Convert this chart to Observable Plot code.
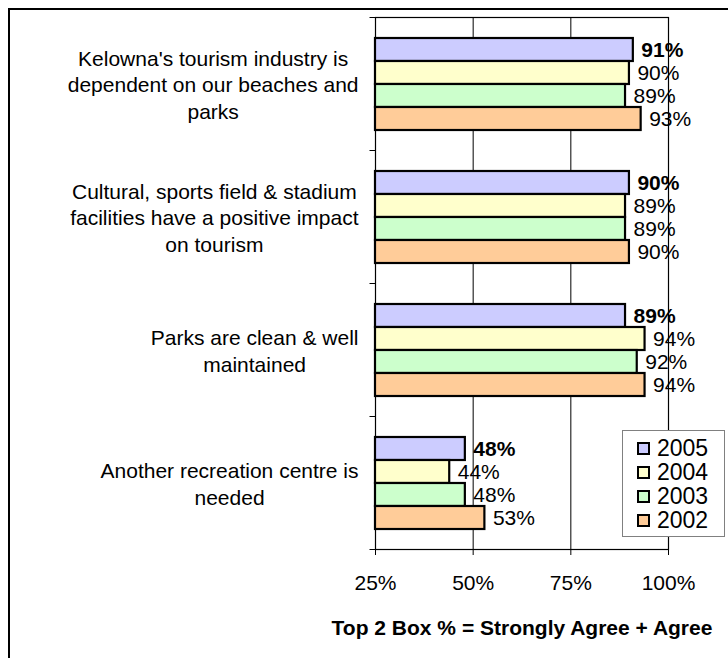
<!DOCTYPE html>
<html><head><meta charset="utf-8">
<script src="https://cdn.jsdelivr.net/npm/d3@7"></script>
<script src="https://cdn.jsdelivr.net/npm/@observablehq/plot@0.6"></script>
<style>
html,body{margin:0;padding:0;background:#fff;overflow:hidden;}
#wrap{position:relative;width:728px;height:658px;font-family:"Liberation Sans",Arial,sans-serif;color:#000;overflow:hidden;}
#border{position:absolute;left:8px;top:8px;width:760px;height:700px;border-left:2px solid #000;border-top:2px solid #000;}
#chart{position:absolute;left:0;top:0;}
#legend{position:absolute;left:622px;top:430px;width:103px;height:107px;border:1px solid #808080;background:#fff;padding-top:5px;box-sizing:border-box;}
.li{height:24px;line-height:24px;font-size:23px;white-space:nowrap;position:relative;}
.sw{position:absolute;left:14px;top:6px;width:9px;height:9px;border:2px solid #000;}
.lt{position:absolute;left:34px;top:0;}
#title{position:absolute;left:322px;width:400px;top:616px;text-align:center;font-weight:bold;font-size:21px;line-height:24px;}
</style></head>
<body><div id="wrap"><div id="border"></div><div id="chart"></div><div id="legend"></div><div id="title"></div></div>
<script>
// ---- data ----
const categories = [
  "Kelowna's tourism industry is\ndependent on our beaches and\nparks",
  "Cultural, sports field & stadium\nfacilities have a positive impact\non tourism",
  "Parks are clean & well\nmaintained",
  "Another recreation centre is\nneeded"
];
const years = ["2005", "2004", "2003", "2002"];
const values2005 = [91, 90, 89, 48];
const values2004 = [90, 89, 94, 44];
const values2003 = [89, 89, 92, 48];
const values2002 = [93, 90, 94, 53];
const xTicks = [25, 50, 75, 100];
const colors = ["#CCCCFF", "#FFFFCC", "#CCFFCC", "#FFCC99"];
const axisTitle = "Top 2 Box % = Strongly Agree + Agree";

const series = [values2005, values2004, values2003, values2002];
const rows = [];
categories.forEach((c, i) => years.forEach((y, j) => rows.push({category: c, year: y, value: series[j][i]})));

const FONT = '"Liberation Sans", Arial, sans-serif';
const FS = 21;

// measure widest line of each category label (Excel-like centred block, right-aligned)
const ctx = document.createElement("canvas").getContext("2d");
ctx.font = FS + "px " + FONT;
const maxW = c => Math.max(...c.split("\n").map(s => ctx.measureText(s).width));

const leftTick = {draw(context, size) { const r = Math.sqrt(size / Math.PI); context.moveTo(-r, 0); context.lineTo(0, 0); }};

const labelMarks = categories.map(c => Plot.text([c], {
  fy: d => d, text: d => d, frameAnchor: "left", textAnchor: "middle",
  dx: -(17 + maxW(c) / 2), fontSize: FS, lineHeight: 1.25, fill: "#000"
}));

const chart = Plot.plot({
  width: 728, height: 658,
  marginLeft: 375, marginRight: 60, marginTop: 15, marginBottom: 108,
  style: {fontFamily: FONT, fontSize: FS + "px", color: "#000", background: "transparent", overflow: "visible"},
  fy: {domain: categories, padding: 0, axis: null},
  y: {domain: years, paddingInner: 0, paddingOuter: 0.786, axis: null},
  x: {domain: [25, 100], ticks: xTicks, tickFormat: d => d + "%", tickSize: 6, tickPadding: 20, label: null},
  color: {domain: years, range: colors},
  marks: [
    Plot.ruleX(xTicks, {stroke: "#000", strokeWidth: 1}),
    Plot.frame({stroke: "#000", strokeWidth: 1.2, facet: "super"}),
    Plot.dot(categories, {fy: d => d, frameAnchor: "top-left", symbol: leftTick, r: 6, stroke: "#000", strokeWidth: 1}),
    Plot.dot(categories.slice(-1), {fy: d => d, frameAnchor: "bottom-left", symbol: leftTick, r: 6, stroke: "#000", strokeWidth: 1}),
    Plot.barX(rows, {fy: "category", y: "year", x1: 25, x2: "value", fill: "year", stroke: "#000", strokeWidth: 2.2, insetTop: 0, insetBottom: 0}),
    Plot.text(rows.filter(d => d.year === years[0]), {fy: "category", y: "year", x: "value", text: d => d.value + "%", textAnchor: "start", dx: 8, fontSize: FS, fontWeight: "bold", fill: "#000"}),
    Plot.text(rows.filter(d => d.year !== years[0]), {fy: "category", y: "year", x: "value", text: d => d.value + "%", textAnchor: "start", dx: 8, fontSize: FS, fill: "#000"}),
    ...labelMarks
  ]
});
document.getElementById("chart").appendChild(chart);

const legend = document.getElementById("legend");
years.forEach((y, j) => {
  const row = document.createElement("div"); row.className = "li";
  const sw = document.createElement("span"); sw.className = "sw"; sw.style.background = colors[j];
  const t = document.createElement("span"); t.className = "lt"; t.textContent = y;
  row.appendChild(sw); row.appendChild(t); legend.appendChild(row);
});
document.getElementById("title").textContent = axisTitle;
</script></body></html>
